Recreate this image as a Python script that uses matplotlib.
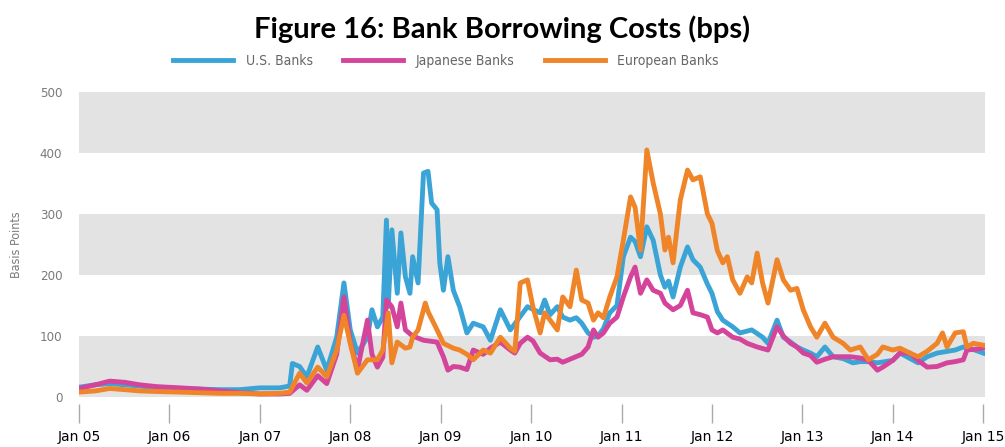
import matplotlib
matplotlib.use("Agg")
import matplotlib.pyplot as plt
import numpy as np

# decimal years / basis points
us_t = [2005.00, 2005.18, 2005.34, 2005.51, 2005.67, 2005.86, 2006.12, 2006.34, 2006.56, 2006.78,
        2007.00, 2007.22, 2007.33, 2007.36, 2007.44, 2007.52, 2007.64, 2007.74, 2007.85, 2007.93,
        2008.00, 2008.08, 2008.19, 2008.24, 2008.30, 2008.36, 2008.40, 2008.42, 2008.46, 2008.52,
        2008.56, 2008.61, 2008.66, 2008.69, 2008.75, 2008.81, 2008.86, 2008.90, 2008.96, 2008.99,
        2009.03, 2009.08, 2009.14, 2009.21, 2009.29, 2009.36, 2009.47, 2009.55, 2009.66, 2009.77,
        2009.96, 2010.10, 2010.15, 2010.21, 2010.29, 2010.35, 2010.43, 2010.50, 2010.56, 2010.63,
        2010.69, 2010.74, 2010.80, 2010.87, 2010.95, 2011.02, 2011.10, 2011.15, 2011.21, 2011.28,
        2011.35, 2011.43, 2011.48, 2011.52, 2011.57, 2011.65, 2011.73, 2011.79, 2011.87, 2011.95,
        2012.00, 2012.06, 2012.12, 2012.23, 2012.31, 2012.44, 2012.56, 2012.62, 2012.72, 2012.79,
        2012.87, 2012.94, 2013.01, 2013.09, 2013.16, 2013.25, 2013.34, 2013.45, 2013.56, 2013.64,
        2013.73, 2013.83, 2014.00, 2014.08, 2014.28, 2014.38, 2014.49, 2014.69, 2014.78, 2014.89,
        2015.00]
us_bps = [16, 20, 22, 20, 18, 15, 14, 13, 12, 12,
          15, 15, 18, 55, 50, 33, 82, 44, 98, 187,
          110, 72, 98, 143, 115, 131, 290, 148, 274, 170,
          269, 197, 170, 230, 187, 367, 370, 318, 307, 220,
          175, 230, 175, 148, 105, 121, 115, 93, 143, 110,
          148, 138, 159, 135, 148, 131, 126, 130, 121, 105,
          98, 100, 112, 138, 150, 230, 262, 255, 230, 279,
          257, 200, 180, 190, 164, 213, 246, 225, 213, 185,
          170, 140, 126, 115, 105, 110, 98, 88, 126, 98,
          90, 82, 77, 72, 66, 82, 66, 63, 56, 58,
          58, 56, 60, 72, 56, 66, 72, 77, 82, 78,
          72]

jp_t = [2005.00, 2005.18, 2005.34, 2005.51, 2005.67, 2005.86, 2006.12, 2006.34, 2006.56, 2006.78,
        2007.00, 2007.22, 2007.33, 2007.44, 2007.52, 2007.64, 2007.74, 2007.85, 2007.93, 2008.00,
        2008.08, 2008.19, 2008.24, 2008.30, 2008.36, 2008.40, 2008.46, 2008.52, 2008.56, 2008.61,
        2008.69, 2008.81, 2008.96, 2009.03, 2009.08, 2009.14, 2009.21, 2009.29, 2009.36, 2009.47,
        2009.55, 2009.66, 2009.77, 2009.82, 2009.88, 2009.96, 2010.02, 2010.10, 2010.21, 2010.29,
        2010.35, 2010.43, 2010.56, 2010.63, 2010.69, 2010.74, 2010.80, 2010.87, 2010.95, 2011.02,
        2011.10, 2011.15, 2011.21, 2011.28, 2011.35, 2011.43, 2011.48, 2011.57, 2011.65, 2011.73,
        2011.79, 2011.87, 2011.95, 2012.00, 2012.06, 2012.12, 2012.23, 2012.31, 2012.39, 2012.50,
        2012.62, 2012.72, 2012.79, 2012.87, 2012.94, 2013.01, 2013.09, 2013.16, 2013.25, 2013.34,
        2013.42, 2013.53, 2013.64, 2013.73, 2013.83, 2013.89, 2014.00, 2014.08, 2014.19, 2014.28,
        2014.38, 2014.49, 2014.60, 2014.69, 2014.78, 2014.82, 2014.89, 2015.00]
jp_bps = [14, 20, 26, 24, 20, 17, 15, 13, 10, 7,
          5, 5, 6, 20, 11, 35, 22, 70, 164, 90,
          45, 126, 70, 49, 65, 159, 148, 115, 154, 110,
          100, 93, 90, 66, 44, 50, 49, 45, 77, 70,
          80, 90, 77, 72, 88, 98, 92, 72, 61, 62,
          57, 62, 70, 82, 110, 98, 105, 121, 131, 164,
          197, 213, 170, 192, 175, 170, 154, 143, 150, 175,
          138, 135, 131, 110, 105, 110, 98, 95, 88, 82,
          77, 115, 100, 88, 82, 72, 68, 57, 62, 66,
          66, 66, 64, 60, 44, 49, 60, 72, 72, 60,
          49, 50, 56, 58, 61, 77, 78, 80]

eu_t = [2005.00, 2005.18, 2005.34, 2005.51, 2005.67, 2005.86, 2006.12, 2006.34, 2006.56, 2006.78,
        2007.00, 2007.22, 2007.33, 2007.44, 2007.52, 2007.64, 2007.74, 2007.85, 2007.93, 2008.00,
        2008.08, 2008.19, 2008.30, 2008.36, 2008.42, 2008.46, 2008.52, 2008.61, 2008.66, 2008.69,
        2008.75, 2008.83, 2008.86, 2008.96, 2009.03, 2009.14, 2009.21, 2009.29, 2009.36, 2009.47,
        2009.55, 2009.66, 2009.77, 2009.82, 2009.88, 2009.96, 2010.02, 2010.10, 2010.15, 2010.21,
        2010.29, 2010.35, 2010.43, 2010.50, 2010.56, 2010.63, 2010.69, 2010.74, 2010.80, 2010.87,
        2010.95, 2011.02, 2011.10, 2011.15, 2011.21, 2011.28, 2011.35, 2011.43, 2011.48, 2011.52,
        2011.57, 2011.65, 2011.73, 2011.79, 2011.87, 2011.90, 2011.95, 2012.00, 2012.06, 2012.12,
        2012.17, 2012.23, 2012.31, 2012.39, 2012.44, 2012.50, 2012.56, 2012.62, 2012.72, 2012.79,
        2012.87, 2012.94, 2013.01, 2013.09, 2013.16, 2013.25, 2013.34, 2013.45, 2013.53, 2013.64,
        2013.73, 2013.83, 2013.89, 2014.00, 2014.08, 2014.19, 2014.28, 2014.38, 2014.49, 2014.55,
        2014.60, 2014.69, 2014.78, 2014.82, 2014.89, 2015.00]
eu_bps = [8, 10, 14, 12, 10, 9, 8, 7, 6, 6,
          5, 6, 8, 39, 23, 49, 33, 77, 134, 88,
          39, 61, 61, 77, 138, 56, 90, 80, 82, 98,
          110, 154, 140, 110, 88, 80, 77, 70, 61, 77,
          72, 98, 80, 75, 187, 192, 148, 105, 138, 126,
          110, 164, 148, 208, 159, 154, 126, 138, 130, 164,
          197, 257, 328, 311, 241, 405, 351, 300, 241, 262,
          220, 323, 372, 356, 361, 339, 300, 285, 240, 220,
          230, 192, 170, 197, 187, 236, 187, 154, 225, 192,
          175, 178, 143, 115, 98, 121, 98, 88, 77, 82,
          61, 70, 82, 77, 80, 72, 66, 75, 88, 105,
          82, 105, 107, 82, 88, 85]

years = list(range(2005, 2016))
year_labels = [f"Jan {y % 100:02d}" for y in years]
y_ticks = [0, 100, 200, 300, 400, 500]

BLUE = "#3aa4d6"; PINK = "#d4449b"; ORANGE = "#ef8428"; GREY = "#7a7a7a"; BAND = "#e3e3e3"
NARROW = dict(family="DejaVu Sans", stretch="condensed")

fig = plt.figure(figsize=(10.05, 4.47), dpi=100)
ax = fig.add_axes([79 / 1005, 50 / 447, 906 / 1005, 305 / 447])

for lo in (0, 200, 400):
    ax.axhspan(lo, lo + 100, color=BAND, lw=0, zorder=0)

ax.plot(us_t, us_bps, color=BLUE, lw=3.5, label="U.S. Banks", zorder=3, solid_joinstyle="round")
ax.plot(jp_t, jp_bps, color=PINK, lw=3.5, label="Japanese Banks", zorder=4, solid_joinstyle="round")
ax.plot(eu_t, eu_bps, color=ORANGE, lw=3.5, label="European Banks", zorder=5, solid_joinstyle="round")

ax.set_xlim(2005, 2015.02)
ax.set_ylim(0, 500)
ax.set_xticks(years)
ax.set_xticklabels(year_labels, fontsize=9, color="#666666", **NARROW)
ax.set_yticks(y_ticks)
ax.set_yticklabels([str(v) for v in y_ticks], fontsize=9.5, color=GREY, **NARROW)
ax.tick_params(axis="y", length=0, pad=12)
ax.tick_params(axis="x", length=14, width=1, color="#aaaaaa", pad=5)
for s in ax.spines.values():
    s.set_color("none")
ax.spines["bottom"].set_position(("outward", 5))
ax.set_ylabel("Basis Points", fontsize=9, color=GREY, **NARROW)
ax.yaxis.set_label_coords(-56 / 906, 0.5)

fig.text(0.5, 1 - 29 / 447, "Figure 16: Bank Borrowing Costs (bps)", ha="center", va="center",
         family=["Lato", "DejaVu Sans"], fontweight="bold", fontsize=21)
ax.legend(loc="center", bbox_to_anchor=((446 - 79) / 906, 1 + (92 - 61) / 305), ncol=3,
          frameon=False, prop=dict(size=10, **NARROW), labelcolor="#666666",
          handlelength=4.3, handletextpad=0.9, columnspacing=2.2)

fig.savefig("out.png", dpi=100, facecolor="white")
